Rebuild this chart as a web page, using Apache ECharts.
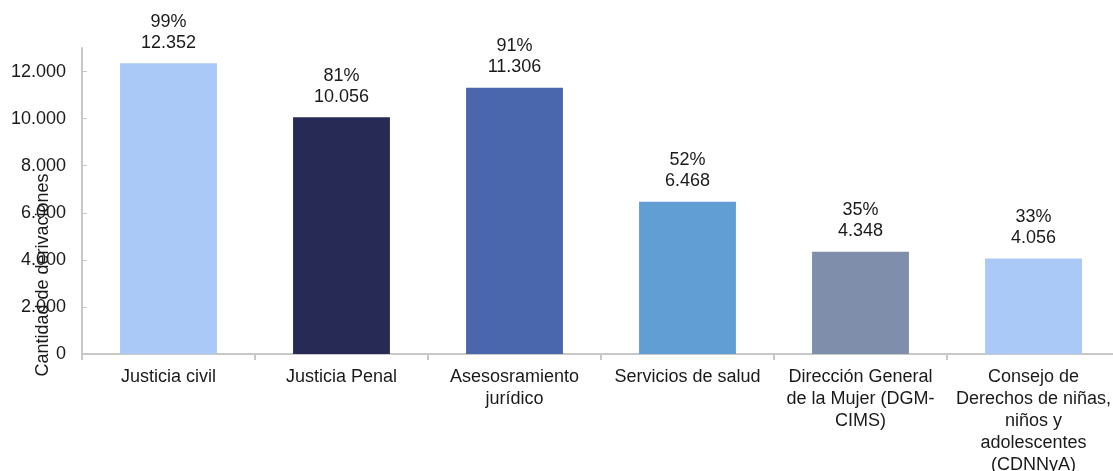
<!DOCTYPE html>
<html>
<head>
<meta charset="utf-8">
<script src="https://cdn.jsdelivr.net/npm/echarts@6/dist/echarts.min.js"></script>
<style>
html,body{margin:0;padding:0;background:#fff;}
#chart{width:1113px;height:471px;}
</style>
</head>
<body>
<div id="chart"></div>
<script>
const categories = [
  "Justicia civil",
  "Justicia Penal",
  "Asesosramiento\njurídico",
  "Servicios de salud",
  "Dirección General\nde la Mujer (DGM-\nCIMS)",
  "Consejo de\nDerechos de niñas,\nniños y\nadolescentes\n(CDNNyA)"
];
const values = [12352, 10056, 11306, 6468, 4348, 4056];
const percents = [99, 81, 91, 52, 35, 33];
const barColors = ["#abc9f6", "#272a55", "#4a66ad", "#609ed3", "#7f8eaa", "#abc9f6"];
const yTicks = [0, 2000, 4000, 6000, 8000, 10000, 12000];
const yTitle = "Cantidad de derivaciones";

function fmt(v) {
  return String(v).replace(/\B(?=(\d{3})+(?!\d))/g, ".");
}

const FONT = "'Liberation Sans', Arial, sans-serif";
const chart = echarts.init(document.getElementById('chart'), null, {renderer: 'canvas'});
chart.setOption({
  animation: false,
  backgroundColor: '#ffffff',
  grid: {left: 82, right: -7, top: 48, bottom: 117, containLabel: false, outerBoundsMode: 'none'},
  xAxis: {
    type: 'category',
    data: categories,
    axisLine: {show: true, lineStyle: {color: '#c8c8c8', width: 2}},
    axisTick: {show: true, length: 6, lineStyle: {color: '#c8c8c8', width: 2}},
    axisLabel: {color: '#1a1a1a', fontFamily: FONT, fontSize: 18, lineHeight: 22, margin: 12, interval: 0}
  },
  yAxis: {
    type: 'value',
    min: 0,
    max: 13000,
    interval: 2000,
    splitLine: {show: false},
    axisLine: {show: true, lineStyle: {color: '#c8c8c8', width: 2}},
    axisTick: {show: true, inside: true, length: 5, customValues: yTicks, lineStyle: {color: '#c8c8c8', width: 1}},
    axisLabel: {customValues: yTicks, color: '#1a1a1a', fontFamily: FONT, fontSize: 18, margin: 16, formatter: v => fmt(v)}
  },
  graphic: [{
    type: 'text',
    x: 43, y: 275,
    rotation: Math.PI / 2,
    style: {text: yTitle, fill: '#1a1a1a', font: "18px 'Liberation Sans', Arial, sans-serif", align: 'center', verticalAlign: 'middle'}
  }],
  series: [{
    type: 'bar',
    barWidth: '56%',
    data: values.map((v, i) => ({value: v, itemStyle: {color: barColors[i]}})),
    label: {
      show: true,
      position: 'top',
      distance: 10,
      color: '#1a1a1a',
      fontFamily: FONT,
      fontSize: 18,
      lineHeight: 21,
      align: 'center',
      formatter: p => percents[p.dataIndex] + '%\n' + fmt(p.value)
    }
  }]
});
</script>
</body>
</html>
